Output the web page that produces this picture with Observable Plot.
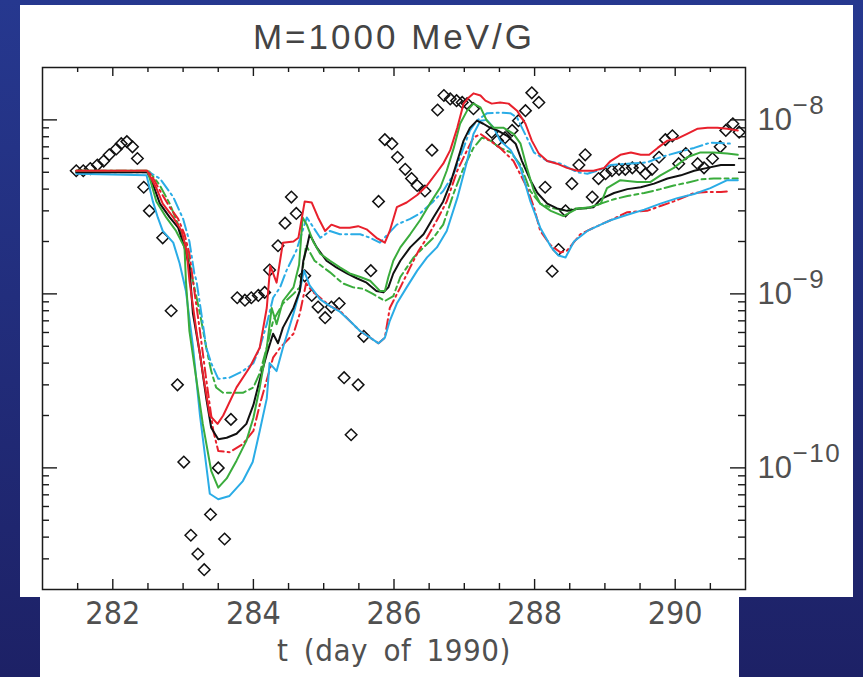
<!DOCTYPE html>
<html><head><meta charset="utf-8">
<script src="https://cdn.jsdelivr.net/npm/d3@7"></script>
<script src="https://cdn.jsdelivr.net/npm/@observablehq/plot@0.6"></script>
<style>
html,body{margin:0;padding:0;}
body{width:863px;height:677px;overflow:hidden;background:linear-gradient(#26388f,#1d2166);position:relative;}
#p1{position:absolute;left:20px;top:5px;width:833px;height:592px;background:#fff;}
#p2{position:absolute;left:40px;top:597px;width:699px;height:80px;background:#fff;}
#chart{position:absolute;left:0;top:0;}
</style></head><body>
<div id="p1"></div><div id="p2"></div><div id="chart"></div>
<script>
const titleText = "M=1000 MeV/G";
const xLabel = "t (day of 1990)";
const xMajor = [282, 284, 286, 288, 290];
const xMinor = [281.5, 282.5, 283, 283.5, 284.5, 285, 285.5, 286.5, 287, 287.5, 288.5, 289, 289.5, 290.5];
const yMajor = [1e-10, 1e-9, 1e-8];
const yExp = ["\u221210", "\u22129", "\u22128"];
const yMinor = [3e-11, 4e-11, 5e-11, 6e-11, 7e-11, 8e-11, 9e-11,
  2e-10, 3e-10, 4e-10, 5e-10, 6e-10, 7e-10, 8e-10, 9e-10,
  2e-9, 3e-9, 4e-9, 5e-9, 6e-9, 7e-9, 8e-9, 9e-9];

const observed = [
[281.48,5.1e-9],[281.58,5.1e-9],[281.68,5.25e-9],[281.78,5.5e-9],[281.87,5.8e-9],[281.95,6.3e-9],[282.05,6.8e-9],[282.12,7.3e-9],[282.2,7.5e-9],[282.28,7.0e-9],[282.35,6.0e-9],[282.44,4.1e-9],[282.52,3.0e-9],[282.71,2.1e-9],[282.83,8.0e-10],[282.92,3.0e-10],[283.01,1.08e-10],[283.11,4.1e-11],[283.21,3.2e-11],[283.3,2.6e-11],[283.39,5.4e-11],[283.5,1.0e-10],[283.59,3.9e-11],[283.68,1.9e-10],[283.77,9.5e-10],[283.88,9.2e-10],[283.97,9.5e-10],[284.07,9.8e-10],[284.16,1.02e-9],[284.23,1.37e-9],[284.35,1.89e-9],[284.45,2.55e-9],[284.54,3.6e-9],[284.61,2.9e-9],[284.73,1.27e-9],[284.83,9.8e-10],[284.92,8.4e-10],[285.02,7.3e-10],[285.11,8.4e-10],[285.22,8.8e-10],[285.29,3.3e-10],[285.39,1.55e-10],[285.49,3.0e-10],[285.57,5.7e-10],[285.67,1.36e-9],[285.78,3.4e-9],[285.87,7.7e-9],[285.97,7.3e-9],[286.05,6.1e-9],[286.16,5.2e-9],[286.25,4.6e-9],[286.33,4.2e-9],[286.44,3.9e-9],[286.54,6.7e-9],[286.62,1.14e-8],[286.71,1.38e-8],[286.8,1.32e-8],[286.89,1.29e-8],[286.97,1.26e-8],[287.04,1.24e-8],[287.13,1.16e-8],[287.39,8.5e-9],[287.47,7.6e-9],[287.58,7.9e-9],[287.68,8.7e-9],[287.77,9.9e-9],[287.87,1.13e-8],[287.96,1.43e-8],[288.06,1.26e-8],[288.15,4.1e-9],[288.25,1.35e-9],[288.34,1.8e-9],[288.44,3.0e-9],[288.53,4.3e-9],[288.63,5.5e-9],[288.72,6.3e-9],[288.82,3.6e-9],[288.91,4.6e-9],[289.01,4.9e-9],[289.1,5.1e-9],[289.2,5.2e-9],[289.29,5.2e-9],[289.39,5.3e-9],[289.5,5.3e-9],[289.58,4.9e-9],[289.67,5.2e-9],[289.77,6.1e-9],[289.86,7.7e-9],[289.96,8.1e-9],[290.05,5.6e-9],[290.15,6.4e-9],[290.32,5.6e-9],[290.41,5.3e-9],[290.53,6.0e-9],[290.64,7.0e-9],[290.72,8.7e-9],[290.82,9.5e-9],[290.91,8.5e-9]
];

const redSolid = [
[281.48,5.1e-9],[282.49,5.1e-9],[282.62,4.05e-9],[282.71,3.3e-9],[282.86,2.75e-9],[282.98,2.3e-9],[283.05,1.77e-9],[283.09,1.19e-9],[283.19,6.1e-10],[283.28,3.5e-10],[283.38,2.0e-10],[283.49,1.79e-10],[283.57,2.0e-10],[283.76,2.9e-10],[283.95,3.8e-10],[284.09,4.9e-10],[284.19,8.3e-10],[284.24,1.45e-9],[284.33,1.16e-9],[284.42,1.97e-9],[284.57,2.0e-9],[284.64,2.1e-9],[284.73,3.4e-9],[284.83,3.35e-9],[284.92,2.75e-9],[285.02,2.3e-9],[285.11,2.5e-9],[285.23,2.4e-9],[285.37,2.4e-9],[285.49,2.45e-9],[285.61,2.35e-9],[285.75,2.1e-9],[285.87,1.97e-9],[285.94,2.3e-9],[286.04,3.15e-9],[286.18,3.35e-9],[286.33,3.7e-9],[286.47,4.2e-9],[286.61,5.0e-9],[286.7,5.6e-9],[286.8,6.7e-9],[286.9,9.0e-9],[286.99,1.24e-8],[287.06,1.34e-8],[287.13,1.42e-8],[287.23,1.38e-8],[287.3,1.29e-8],[287.39,1.24e-8],[287.51,1.26e-8],[287.63,1.24e-8],[287.75,1.13e-8],[287.87,9.5e-9],[287.96,7.6e-9],[288.06,6.4e-9],[288.18,5.8e-9],[288.32,5.6e-9],[288.46,5.3e-9],[288.61,5.1e-9],[288.84,5.1e-9],[288.99,5.3e-9],[289.08,5.8e-9],[289.22,6.3e-9],[289.37,6.5e-9],[289.51,6.3e-9],[289.63,6.3e-9],[289.75,6.9e-9],[289.89,7.6e-9],[290.03,7.8e-9],[290.17,8.3e-9],[290.32,8.9e-9],[290.46,9.0e-9],[290.6,9.0e-9],[290.74,8.9e-9],[290.89,8.7e-9]
];

const redDashDot = [
[281.48,5.1e-9],[282.49,5.1e-9],[282.55,4.8e-9],[282.69,3.8e-9],[282.81,3.15e-9],[282.93,2.7e-9],[283.02,2.2e-9],[283.09,1.7e-9],[283.14,1.19e-9],[283.24,6.1e-10],[283.33,3.2e-10],[283.43,1.63e-10],[283.5,1.25e-10],[283.66,1.23e-10],[283.85,1.37e-10],[284.0,1.63e-10],[284.09,2.3e-10],[284.19,3.2e-10],[284.28,4.3e-10],[284.38,4.9e-10],[284.57,5.9e-10],[284.66,7.7e-10],[284.75,1.15e-9],[284.83,1.04e-9],[284.95,9.5e-10],[285.09,8.5e-10],[285.23,8.0e-10],[285.37,7.0e-10],[285.52,6.1e-10],[285.66,5.6e-10],[285.78,5.2e-10],[285.87,5.6e-10],[285.94,8.3e-10],[286.09,1.09e-9],[286.23,1.42e-9],[286.35,1.77e-9],[286.47,2.1e-9],[286.61,2.65e-9],[286.75,3.4e-9],[286.9,5.1e-9],[287.04,6.7e-9],[287.13,7.9e-9],[287.23,8.3e-9],[287.51,6.9e-9],[287.7,5.8e-9],[287.89,4.1e-9],[287.99,3.15e-9],[288.08,2.3e-9],[288.23,1.9e-9],[288.37,1.73e-9],[288.46,1.77e-9],[288.65,2.2e-9],[288.84,2.4e-9],[289.08,2.65e-9],[289.32,2.95e-9],[289.6,3.0e-9],[289.79,3.2e-9],[289.98,3.4e-9],[290.27,3.8e-9],[290.46,3.85e-9],[290.65,3.85e-9],[290.79,3.9e-9]
];

const cyanSolid = [
[281.48,4.9e-9],[282.48,4.8e-9],[282.57,3.4e-9],[282.64,2.75e-9],[282.71,2.3e-9],[282.86,1.97e-9],[282.95,1.5e-9],[283.04,1.04e-9],[283.14,5.0e-10],[283.24,2.0e-10],[283.38,7.1e-11],[283.5,6.6e-11],[283.66,6.9e-11],[283.85,8.4e-11],[283.99,1.08e-10],[284.09,1.63e-10],[284.19,2.5e-10],[284.23,4.0e-10],[284.33,3.6e-10],[284.42,4.9e-10],[284.57,7.7e-10],[284.66,1.04e-9],[284.72,1.36e-9],[284.8,1.12e-9],[284.95,9.3e-10],[285.09,8.5e-10],[285.23,7.9e-10],[285.37,7.0e-10],[285.52,6.1e-10],[285.66,5.6e-10],[285.78,5.2e-10],[285.87,5.6e-10],[285.94,7.0e-10],[286.04,8.8e-10],[286.18,1.09e-9],[286.33,1.36e-9],[286.47,1.62e-9],[286.61,1.85e-9],[286.75,2.3e-9],[286.9,3.55e-9],[287.04,5.8e-9],[287.13,8.3e-9],[287.23,9.9e-9],[287.32,1.0e-8],[287.42,9.0e-9],[287.51,7.6e-9],[287.66,6.7e-9],[287.8,5.3e-9],[287.94,3.4e-9],[288.08,2.4e-9],[288.23,1.87e-9],[288.34,1.66e-9],[288.44,1.62e-9],[288.56,2.0e-9],[288.75,2.3e-9],[288.94,2.5e-9],[289.08,2.65e-9],[289.32,2.85e-9],[289.56,3.05e-9],[289.79,3.3e-9],[290.03,3.55e-9],[290.27,3.75e-9],[290.5,4.05e-9],[290.74,4.5e-9],[290.89,4.5e-9]
];

const cyanDashDot = [
[281.48,5.0e-9],[282.52,5.0e-9],[282.67,4.6e-9],[282.86,3.6e-9],[283.0,2.7e-9],[283.09,2.0e-9],[283.16,1.31e-9],[283.19,1.19e-9],[283.26,7.7e-10],[283.33,4.9e-10],[283.4,4.0e-10],[283.5,3.25e-10],[283.66,3.3e-10],[283.85,3.6e-10],[284.0,4.0e-10],[284.09,4.9e-10],[284.19,6.7e-10],[284.28,9.5e-10],[284.38,1.09e-9],[284.47,1.36e-9],[284.61,1.77e-9],[284.76,2.75e-9],[284.95,2.1e-9],[285.09,2.3e-9],[285.23,2.2e-9],[285.37,2.2e-9],[285.52,2.2e-9],[285.66,2.1e-9],[285.8,1.97e-9],[286.04,2.5e-9],[286.23,2.7e-9],[286.37,2.9e-9],[286.56,3.4e-9],[286.7,3.9e-9],[286.85,4.9e-9],[286.99,6.9e-9],[287.08,8.7e-9],[287.18,9.9e-9],[287.32,1.09e-8],[287.51,1.1e-8],[287.66,1.09e-8],[287.75,1.03e-8],[287.89,7.9e-9],[287.99,6.5e-9],[288.18,5.8e-9],[288.37,5.6e-9],[288.61,5.0e-9],[288.75,4.9e-9],[288.89,5.1e-9],[289.08,5.5e-9],[289.32,5.6e-9],[289.6,5.7e-9],[289.79,6.1e-9],[290.03,6.5e-9],[290.27,6.9e-9],[290.5,7.4e-9],[290.79,7.3e-9]
];

const greenSolid = [
[281.48,5.1e-9],[282.49,5.1e-9],[282.52,4.7e-9],[282.62,3.4e-9],[282.76,2.75e-9],[282.9,2.3e-9],[283.02,1.85e-9],[283.04,1.19e-9],[283.09,6.1e-10],[283.19,3.2e-10],[283.28,1.79e-10],[283.4,9.6e-11],[283.5,7.7e-11],[283.62,8.7e-11],[283.76,1.1e-10],[283.9,1.43e-10],[284.0,1.94e-10],[284.09,2.9e-10],[284.19,4.9e-10],[284.26,8.3e-10],[284.33,6.7e-10],[284.42,9.1e-10],[284.57,1.09e-9],[284.65,1.47e-9],[284.7,2.75e-9],[284.76,2.5e-9],[284.85,2.0e-9],[284.95,1.7e-9],[285.09,1.55e-9],[285.23,1.42e-9],[285.37,1.31e-9],[285.52,1.25e-9],[285.66,1.19e-9],[285.8,1.04e-9],[285.87,1.04e-9],[285.92,1.25e-9],[285.99,1.55e-9],[286.09,1.85e-9],[286.23,2.2e-9],[286.37,2.65e-9],[286.51,3.3e-9],[286.66,4.1e-9],[286.75,5.1e-9],[286.85,6.9e-9],[286.94,9.5e-9],[287.04,1.13e-8],[287.13,1.24e-8],[287.23,1.18e-8],[287.32,9.9e-9],[287.42,9.0e-9],[287.56,9.0e-9],[287.7,8.3e-9],[287.8,7.3e-9],[287.89,5.3e-9],[287.99,3.9e-9],[288.08,3.3e-9],[288.23,3.0e-9],[288.41,2.8e-9],[288.61,3.1e-9],[288.8,3.15e-9],[288.94,3.3e-9],[289.03,4.05e-9],[289.22,4.5e-9],[289.46,4.4e-9],[289.65,4.4e-9],[289.79,4.8e-9],[289.98,5.3e-9],[290.17,6.1e-9],[290.36,6.5e-9],[290.55,6.5e-9],[290.74,6.4e-9],[290.89,6.3e-9]
];

const greenDashed = [
[281.48,5.1e-9],[282.52,5.05e-9],[282.67,4.2e-9],[282.81,3.3e-9],[282.93,2.5e-9],[283.05,1.85e-9],[283.14,1.19e-9],[283.24,7.7e-10],[283.33,4.9e-10],[283.4,3.6e-10],[283.47,2.9e-10],[283.57,2.7e-10],[283.71,2.7e-10],[283.85,2.7e-10],[284.0,2.9e-10],[284.09,3.5e-10],[284.19,4.9e-10],[284.28,7.0e-10],[284.42,8.8e-10],[284.57,1.0e-9],[284.66,1.09e-9],[284.75,1.9e-9],[284.87,1.55e-9],[285.09,1.33e-9],[285.27,1.15e-9],[285.42,1.09e-9],[285.56,1.07e-9],[285.7,1.0e-9],[285.87,9.1e-10],[285.99,9.7e-10],[286.09,1.25e-9],[286.28,1.62e-9],[286.42,1.85e-9],[286.56,2.1e-9],[286.7,2.5e-9],[286.85,3.8e-9],[286.99,5.3e-9],[287.13,6.9e-9],[287.25,7.9e-9],[287.37,7.6e-9],[287.51,6.9e-9],[287.66,6.5e-9],[287.8,5.5e-9],[287.94,3.9e-9],[288.08,3.3e-9],[288.27,3.1e-9],[288.46,3.0e-9],[288.56,3.1e-9],[288.75,3.1e-9],[288.94,3.3e-9],[289.13,3.5e-9],[289.32,3.65e-9],[289.56,3.8e-9],[289.79,4.0e-9],[289.98,4.2e-9],[290.17,4.35e-9],[290.36,4.55e-9],[290.55,4.6e-9],[290.89,4.6e-9]
];

const blackSolid = [
[281.48,5.0e-9],[282.49,5.0e-9],[282.55,4.5e-9],[282.67,3.3e-9],[282.81,2.75e-9],[282.93,2.4e-9],[283.02,1.85e-9],[283.09,1.42e-9],[283.14,7.7e-10],[283.24,4.5e-10],[283.33,2.5e-10],[283.4,1.7e-10],[283.5,1.46e-10],[283.62,1.49e-10],[283.76,1.57e-10],[283.9,1.79e-10],[284.0,2.3e-10],[284.09,3.2e-10],[284.19,4.5e-10],[284.28,5.9e-10],[284.35,5.2e-10],[284.42,6.4e-10],[284.57,8.3e-10],[284.66,1.04e-9],[284.71,1.55e-9],[284.76,1.85e-9],[284.8,2.2e-9],[284.9,1.85e-9],[285.04,1.55e-9],[285.18,1.42e-9],[285.33,1.31e-9],[285.47,1.23e-9],[285.61,1.16e-9],[285.75,1.04e-9],[285.85,1.02e-9],[285.92,1.09e-9],[285.99,1.31e-9],[286.09,1.55e-9],[286.23,1.85e-9],[286.42,2.2e-9],[286.56,2.75e-9],[286.7,3.4e-9],[286.8,4.3e-9],[286.9,5.8e-9],[286.99,7.6e-9],[287.08,9.0e-9],[287.18,9.9e-9],[287.27,9.5e-9],[287.37,9.0e-9],[287.47,8.7e-9],[287.61,8.1e-9],[287.73,7.3e-9],[287.82,5.8e-9],[287.94,4.5e-9],[288.04,3.8e-9],[288.18,3.3e-9],[288.32,3.1e-9],[288.46,3.0e-9],[288.65,3.1e-9],[288.84,3.15e-9],[288.94,3.5e-9],[289.13,3.8e-9],[289.32,4.0e-9],[289.51,4.1e-9],[289.7,4.3e-9],[289.89,4.6e-9],[290.08,4.8e-9],[290.27,5.1e-9],[290.46,5.3e-9],[290.65,5.5e-9],[290.84,5.5e-9]
];

const RED = "#e8202c", CYAN = "#2aace6", GREEN = "#3aac3c", BLACK = "#111111";
const W = 863, H = 677, ML = 42, MR = 118, MT = 67, MB = 88;
const FW = W - ML - MR, FH = H - MT - MB;
const fx = d => d[0], fy = d => d[1];
const lineOpts = (stroke, dash) => ({x: fx, y: fy, stroke, strokeWidth: 2, strokeDasharray: dash, strokeLinejoin: "round"});
const axisColor = "#1a1a1a";
const textColor = "#505050";
const narrow = "'Liberation Sans Narrow', 'DejaVu Sans Condensed', sans-serif";

const chart = Plot.plot({
  width: W, height: H,
  marginLeft: ML, marginRight: MR, marginTop: MT, marginBottom: MB,
  style: {background: "transparent", fontFamily: "'Liberation Sans', Arial, sans-serif", overflow: "visible"},
  x: {domain: [281, 291], axis: null},
  y: {type: "log", domain: [2e-11, 2e-8], axis: null},
  marks: [
    Plot.dot(observed, {x: fx, y: fy, symbol: "diamond2", r: 5.2, stroke: BLACK, strokeWidth: 1.5, fill: "none"}),
    Plot.line(greenDashed, lineOpts(GREEN, "11,4,4,4")),
    Plot.line(cyanDashDot, lineOpts(CYAN, "12,4,2,4")),
    Plot.line(redDashDot, lineOpts(RED, "10,4,2,4")),
    Plot.line(cyanSolid, lineOpts(CYAN)),
    Plot.line(blackSolid, lineOpts(BLACK)),
    Plot.line(greenSolid, lineOpts(GREEN)),
    Plot.line(redSolid, lineOpts(RED)),
    Plot.frame({stroke: axisColor, strokeWidth: 1.5}),
    Plot.tickX(xMajor, {x: d => d, insetTop: FH - 10, stroke: axisColor, strokeWidth: 1.4}),
    Plot.tickX(xMinor, {x: d => d, insetTop: FH - 6, stroke: axisColor, strokeWidth: 1.4}),
    Plot.tickX(xMajor, {x: d => d, insetBottom: FH - 9, stroke: axisColor, strokeWidth: 1.4}),
    Plot.tickX(xMinor, {x: d => d, insetBottom: FH - 5, stroke: axisColor, strokeWidth: 1.4}),
    Plot.tickY(yMajor, {y: d => d, insetRight: FW - 15, stroke: axisColor, strokeWidth: 1.4}),
    Plot.tickY(yMinor, {y: d => d, insetRight: FW - 7, stroke: axisColor, strokeWidth: 1.4}),
    Plot.tickY(yMajor, {y: d => d, insetLeft: FW - 15, stroke: axisColor, strokeWidth: 1.4}),
    Plot.tickY(yMinor, {y: d => d, insetLeft: FW - 7, stroke: axisColor, strokeWidth: 1.4}),
    Plot.text(xMajor, {x: d => d, frameAnchor: "bottom", dy: 24, lineAnchor: "middle", text: d => String(d),
      fontSize: 32, fill: textColor, fontFamily: narrow}),
    Plot.text(yMajor, {y: d => d, frameAnchor: "right", dx: 12, textAnchor: "start", lineAnchor: "middle", text: () => "10",
      fontSize: 31, fill: textColor}),
    Plot.text(yMajor, {y: d => d, frameAnchor: "right", dx: 47, dy: -14, textAnchor: "start", lineAnchor: "middle",
      text: (d, i) => yExp[i], fontSize: 26, fill: textColor}),
    Plot.text([titleText], {frameAnchor: "top", dy: -30, lineAnchor: "middle", text: d => d, fontSize: 35, fill: "#444"}),
    Plot.text([xLabel], {frameAnchor: "bottom", dy: 62, lineAnchor: "middle", text: d => d, fontSize: 31, fill: textColor,
      fontFamily: narrow})
  ]
});
document.getElementById("chart").appendChild(chart);
d3.select(chart).selectAll("text").each(function() {
  const t = this.textContent;
  if (t === titleText) this.setAttribute("letter-spacing", "3");
  if (t === xLabel) { this.setAttribute("letter-spacing", "0.5"); this.setAttribute("word-spacing", "6"); }
  if (t.startsWith("\u2212")) this.setAttribute("letter-spacing", "1.5");
});
</script></body></html>
